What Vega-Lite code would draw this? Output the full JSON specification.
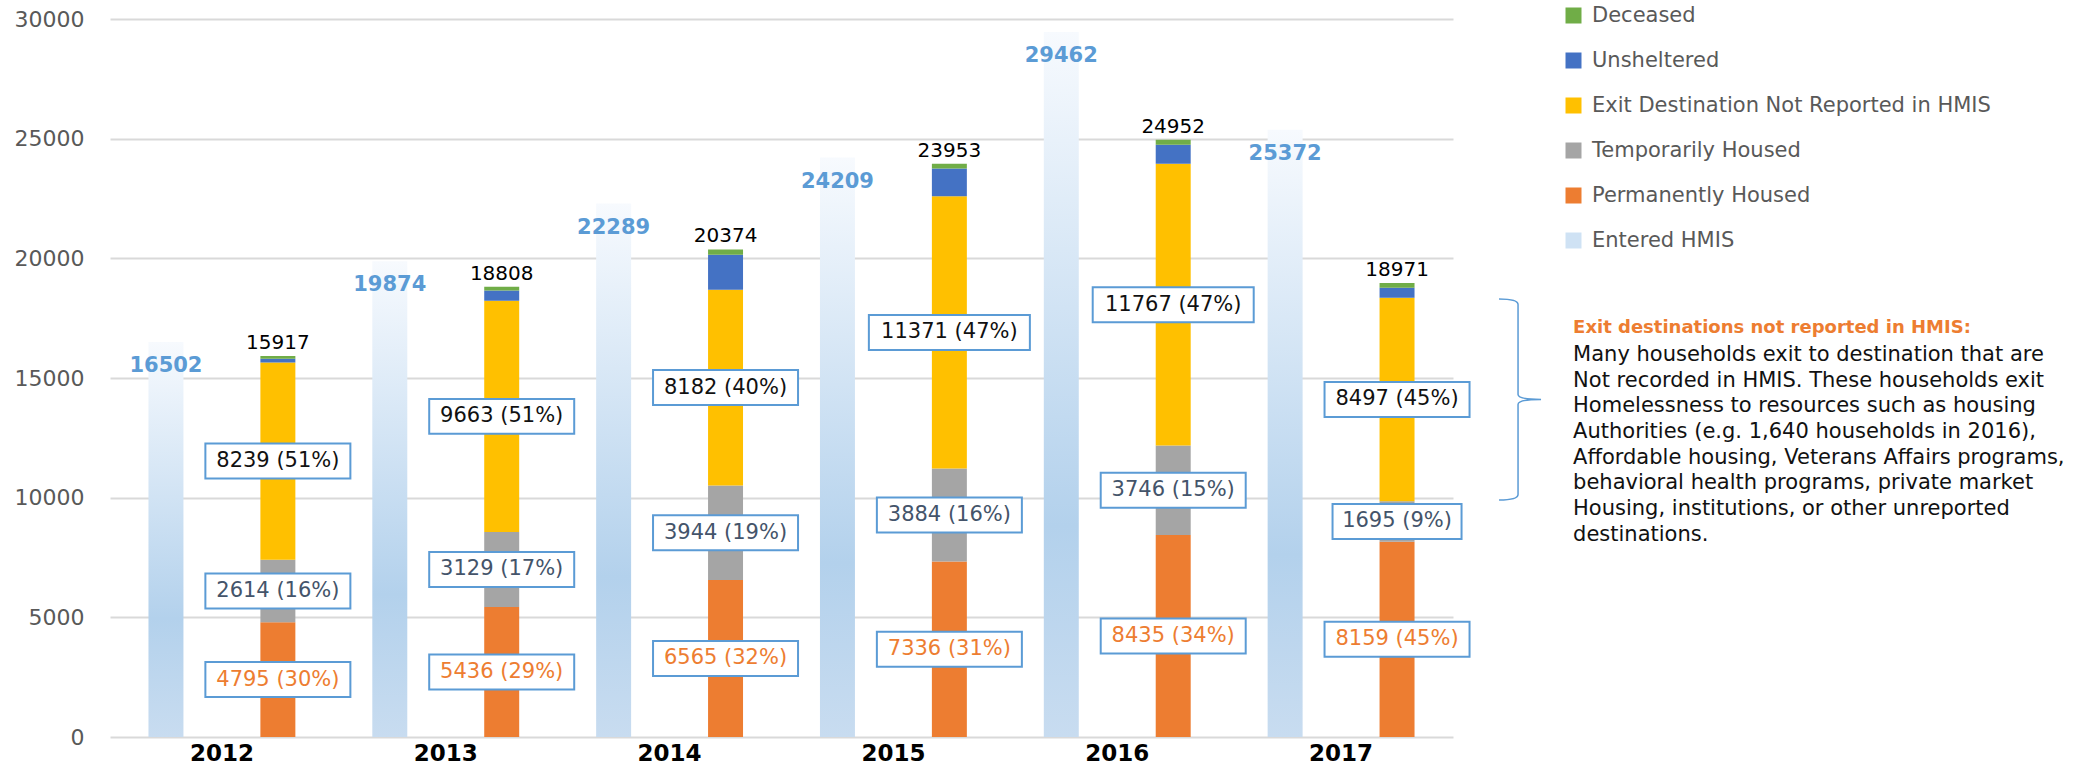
{
  "$schema": "https://vega.github.io/schema/vega-lite/v6.json",
  "width": 1343,
  "height": 718,
  "autosize": {"type": "none"},
  "padding": {"left": 110, "top": 19, "right": 633, "bottom": 31},
  "background": "white",
  "config": {"view": {"stroke": null}, "font": "DejaVu Sans", "text": {"font": "DejaVu Sans"}},
  "datasets": {
    "exits": [
      {"year": "2012", "cat": "Permanently Housed", "value": 4795, "label": "4795 (30%)"},
      {"year": "2012", "cat": "Temporarily Housed", "value": 2614, "label": "2614 (16%)"},
      {"year": "2012", "cat": "Exit Destination Not Reported in HMIS", "value": 8239, "label": "8239 (51%)"},
      {"year": "2012", "cat": "Unsheltered", "value": 153, "label": null},
      {"year": "2012", "cat": "Deceased", "value": 116, "label": null},
      {"year": "2013", "cat": "Permanently Housed", "value": 5436, "label": "5436 (29%)"},
      {"year": "2013", "cat": "Temporarily Housed", "value": 3129, "label": "3129 (17%)"},
      {"year": "2013", "cat": "Exit Destination Not Reported in HMIS", "value": 9663, "label": "9663 (51%)"},
      {"year": "2013", "cat": "Unsheltered", "value": 425, "label": null},
      {"year": "2013", "cat": "Deceased", "value": 155, "label": null},
      {"year": "2014", "cat": "Permanently Housed", "value": 6565, "label": "6565 (32%)"},
      {"year": "2014", "cat": "Temporarily Housed", "value": 3944, "label": "3944 (19%)"},
      {"year": "2014", "cat": "Exit Destination Not Reported in HMIS", "value": 8182, "label": "8182 (40%)"},
      {"year": "2014", "cat": "Unsheltered", "value": 1460, "label": null},
      {"year": "2014", "cat": "Deceased", "value": 223, "label": null},
      {"year": "2015", "cat": "Permanently Housed", "value": 7336, "label": "7336 (31%)"},
      {"year": "2015", "cat": "Temporarily Housed", "value": 3884, "label": "3884 (16%)"},
      {"year": "2015", "cat": "Exit Destination Not Reported in HMIS", "value": 11371, "label": "11371 (47%)"},
      {"year": "2015", "cat": "Unsheltered", "value": 1165, "label": null},
      {"year": "2015", "cat": "Deceased", "value": 197, "label": null},
      {"year": "2016", "cat": "Permanently Housed", "value": 8435, "label": "8435 (34%)"},
      {"year": "2016", "cat": "Temporarily Housed", "value": 3746, "label": "3746 (15%)"},
      {"year": "2016", "cat": "Exit Destination Not Reported in HMIS", "value": 11767, "label": "11767 (47%)"},
      {"year": "2016", "cat": "Unsheltered", "value": 795, "label": null},
      {"year": "2016", "cat": "Deceased", "value": 209, "label": null},
      {"year": "2017", "cat": "Permanently Housed", "value": 8159, "label": "8159 (45%)"},
      {"year": "2017", "cat": "Temporarily Housed", "value": 1695, "label": "1695 (9%)"},
      {"year": "2017", "cat": "Exit Destination Not Reported in HMIS", "value": 8497, "label": "8497 (45%)"},
      {"year": "2017", "cat": "Unsheltered", "value": 420, "label": null},
      {"year": "2017", "cat": "Deceased", "value": 200, "label": null}
    ],
    "entered": [
      {"year": "2012", "value": 16502},
      {"year": "2013", "value": 19874},
      {"year": "2014", "value": 22289},
      {"year": "2015", "value": 24209},
      {"year": "2016", "value": 29462},
      {"year": "2017", "value": 25372}
    ]
  },
  "layer": [
    {
      "data": {"name": "entered"},
      "transform": [{"calculate": "'Entered'", "as": "grp"}],
      "mark": {
        "type": "bar",
        "color": {
          "gradient": "linear", "x1": 0, "y1": 0, "x2": 0, "y2": 1,
          "stops": [
            {"offset": 0, "color": "#F7FAFE"},
            {"offset": 0.7, "color": "#B3D1EC"},
            {"offset": 1, "color": "#C8DCF0"}
          ]
        }
      },
      "encoding": {
        "x": {
          "field": "year", "type": "nominal", "title": null,
          "scale": {"paddingInner": 0, "paddingOuter": 0},
          "axis": {"labelFontSize": 23, "labelFontWeight": "bold", "labelColor": "#000000", "ticks": false, "domain": false, "labelPadding": 5, "labelAngle": 0, "grid": false, "labelFont": "DejaVu Sans"}
        },
        "xOffset": {"field": "grp", "type": "nominal", "scale": {"domain": ["Entered", "Exits"], "paddingInner": 0.6875, "paddingOuter": 0.34375}},
        "y": {
          "field": "value", "type": "quantitative", "title": null, "stack": null,
          "scale": {"domain": [0, 30000], "nice": false},
          "axis": {"values": [0, 5000, 10000, 15000, 20000, 25000, 30000], "format": "d", "labelFontSize": 22, "labelColor": "#595959", "labelPadding": 26, "ticks": false, "domain": false, "grid": true, "gridColor": "#D9D9D9", "gridWidth": 2, "labelFont": "DejaVu Sans"}
        }
      }
    },
    {
      "data": {"name": "entered"},
      "transform": [{"calculate": "'Entered'", "as": "grp"}],
      "mark": {"type": "text", "font": "DejaVu Sans", "fontWeight": "bold", "fontSize": 21, "color": "#5B9BD5", "baseline": "middle", "dy": 24},
      "encoding": {
        "x": {"field": "year", "type": "nominal", "title": null},
        "xOffset": {"field": "grp", "type": "nominal"},
        "y": {"field": "value", "type": "quantitative", "title": null, "stack": null},
        "text": {"field": "value", "type": "quantitative", "format": "d"}
      }
    },
    {
      "data": {"name": "exits"},
      "transform": [
        {"calculate": "'Exits'", "as": "grp"},
        {"calculate": "indexof(['Permanently Housed','Temporarily Housed','Exit Destination Not Reported in HMIS','Unsheltered','Deceased'], datum.cat)", "as": "ord"},
        {"stack": "value", "groupby": ["year"], "sort": [{"field": "ord", "order": "ascending"}], "as": ["v0", "v1"]}
      ],
      "mark": {"type": "bar"},
      "encoding": {
        "x": {"field": "year", "type": "nominal", "title": null},
        "xOffset": {"field": "grp", "type": "nominal"},
        "y": {"field": "v0", "type": "quantitative", "title": null},
        "y2": {"field": "v1"},
        "color": {
          "field": "cat", "type": "nominal",
          "scale": {
            "domain": ["Deceased", "Unsheltered", "Exit Destination Not Reported in HMIS", "Temporarily Housed", "Permanently Housed", "Entered HMIS"],
            "range": ["#70AD47", "#4472C4", "#FFC000", "#A5A5A5", "#ED7D31", "#CFE2F4"]
          },
          "legend": {
            "orient": "none", "legendX": 1453, "legendY": -14, "title": null,
            "symbolType": "square", "symbolSize": 256, "symbolStrokeWidth": 0,
            "labelFontSize": 21, "labelFont": "DejaVu Sans", "labelColor": "#595959",
            "rowPadding": 23, "labelOffset": 8, "padding": 0, "labelLimit": 0
          }
        }
      }
    },
    {
      "data": {"name": "exits"},
      "transform": [
        {"calculate": "'Exits'", "as": "grp"},
        {"calculate": "indexof(['Permanently Housed','Temporarily Housed','Exit Destination Not Reported in HMIS','Unsheltered','Deceased'], datum.cat)", "as": "ord"},
        {"stack": "value", "groupby": ["year"], "sort": [{"field": "ord", "order": "ascending"}], "as": ["v0", "v1"]},
        {"filter": "datum.label != null"},
        {"calculate": "(datum.v0 + datum.v1) / 2", "as": "mid"},
        {"calculate": "datum.mid - 731", "as": "ylo"},
        {"calculate": "datum.mid + 731", "as": "yhi"},
        {"calculate": "length(datum.label) * 16 - 15", "as": "boxw"}
      ],
      "mark": {"type": "bar", "fill": "#FFFFFF", "stroke": "#5B9BD5", "strokeWidth": 2},
      "encoding": {
        "x": {"field": "year", "type": "nominal", "title": null},
        "xOffset": {"field": "grp", "type": "nominal"},
        "y": {"field": "ylo", "type": "quantitative", "title": null},
        "y2": {"field": "yhi"},
        "size": {"field": "boxw", "type": "quantitative", "scale": null, "legend": null}
      }
    },
    {
      "data": {"name": "exits"},
      "transform": [
        {"calculate": "'Exits'", "as": "grp"},
        {"calculate": "indexof(['Permanently Housed','Temporarily Housed','Exit Destination Not Reported in HMIS','Unsheltered','Deceased'], datum.cat)", "as": "ord"},
        {"stack": "value", "groupby": ["year"], "sort": [{"field": "ord", "order": "ascending"}], "as": ["v0", "v1"]},
        {"filter": "datum.label != null"},
        {"calculate": "(datum.v0 + datum.v1) / 2", "as": "mid"}
      ],
      "mark": {"type": "text", "font": "DejaVu Sans", "fontSize": 21, "baseline": "middle"},
      "encoding": {
        "x": {"field": "year", "type": "nominal", "title": null},
        "xOffset": {"field": "grp", "type": "nominal"},
        "y": {"field": "mid", "type": "quantitative", "title": null},
        "text": {"field": "label", "type": "nominal"},
        "color": {
          "condition": [
            {"test": "datum.cat === 'Permanently Housed'", "value": "#ED7D31"},
            {"test": "datum.cat === 'Temporarily Housed'", "value": "#44546A"}
          ],
          "value": "#111111"
        }
      }
    },
    {
      "data": {"name": "exits"},
      "transform": [
        {"aggregate": [{"op": "sum", "field": "value", "as": "total"}], "groupby": ["year"]},
        {"calculate": "'Exits'", "as": "grp"}
      ],
      "mark": {"type": "text", "font": "DejaVu Sans", "fontSize": 20, "color": "#000000", "baseline": "alphabetic", "dy": -7},
      "encoding": {
        "x": {"field": "year", "type": "nominal", "title": null},
        "xOffset": {"field": "grp", "type": "nominal"},
        "y": {"field": "total", "type": "quantitative", "title": null},
        "text": {"field": "total", "type": "quantitative", "format": "d"}
      }
    },
    {
      "data": {"name": "exits"},
      "transform": [
        {"calculate": "'Exits'", "as": "grp"},
        {"calculate": "indexof(['Permanently Housed','Temporarily Housed','Exit Destination Not Reported in HMIS','Unsheltered','Deceased'], datum.cat)", "as": "ord"},
        {"stack": "value", "groupby": ["year"], "sort": [{"field": "ord", "order": "ascending"}], "as": ["v0", "v1"]},
        {"filter": "datum.year === '2017' && datum.cat === 'Exit Destination Not Reported in HMIS'"},
        {"calculate": "(datum.v0 + datum.v1) / 2", "as": "mid"}
      ],
      "mark": {
        "type": "point", "filled": false, "opacity": 1, "stroke": "#5B9BD5", "strokeWidth": 1.5, "size": 40000,
        "shape": "M1.02,-1.005 Q1.21,-1.005 1.21,-0.95 L1.21,-0.05 Q1.21,0 1.44,0 Q1.21,0 1.21,0.05 L1.21,0.95 Q1.21,1.005 1.02,1.005"
      },
      "encoding": {
        "x": {"field": "year", "type": "nominal", "title": null},
        "xOffset": {"field": "grp", "type": "nominal"},
        "y": {"field": "mid", "type": "quantitative", "title": null}
      }
    },
    {
      "data": {"values": [{}]},
      "mark": {"type": "text", "text": "Exit destinations not reported in HMIS:", "font": "DejaVu Sans", "fontWeight": "bold", "fontSize": 18, "color": "#ED7D31", "align": "left", "baseline": "middle", "dx": 232},
      "encoding": {
        "x": {"datum": "2017", "type": "nominal"},
        "y": {"datum": 17089, "type": "quantitative"}
      }
    },
    {
      "data": {"values": [{}]},
      "mark": {
        "type": "text",
        "text": ["Many households exit to destination that are", "Not recorded in HMIS.  These households exit", "Homelessness to resources such as housing", "Authorities (e.g. 1,640 households in 2016),", "Affordable housing, Veterans Affairs programs,", " behavioral health programs, private market", "Housing, institutions, or other unreported", "destinations."],
        "font": "DejaVu Sans", "fontSize": 21, "color": "#111111", "align": "left", "baseline": "top", "lineHeight": 25.7, "dx": 232
      },
      "encoding": {
        "x": {"datum": "2017", "type": "nominal"},
        "y": {"datum": 16421, "type": "quantitative"}
      }
    }
  ]
}
